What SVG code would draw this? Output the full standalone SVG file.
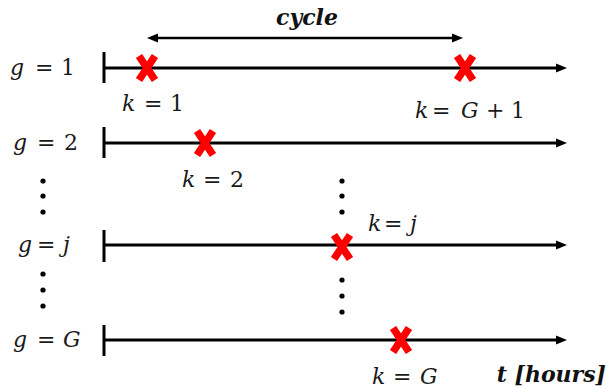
<svg xmlns="http://www.w3.org/2000/svg" width="609" height="388" viewBox="0 0 609 388">
  <style>
    .axis { stroke: #000; stroke-width: 3; fill: none; }
    .tick { stroke: #000; stroke-width: 3; }
    .span { stroke: #000; stroke-width: 2.5; fill: none; }
    .cross { stroke: #ff0000; stroke-width: 7.5; fill: none; }
    .lbl { font-family: "DejaVu Serif", "Liberation Serif", serif; font-size: 22px; fill: #1a1a1a; }
    .v { font-style: italic; }
    .bold { font-family: "DejaVu Serif", "Liberation Serif", serif; font-size: 22px; font-weight: bold; font-style: italic; fill: #111; }
    .dot { fill: #000; }
  </style>
  <defs>
    <marker id="ah" markerUnits="userSpaceOnUse" markerWidth="12" markerHeight="12" viewBox="0 -6 12 12" refX="3" refY="0" orient="auto-start-reverse">
      <path d="M0,-4.5 L11,0 L0,4.5 z" fill="#000"/>
    </marker>
    <path id="x" class="cross" d="M-8,-12 L8,12 M8,-12 L-8,12"/>
  </defs>

  <rect width="609" height="388" fill="#fff"/>

  <g id="connectors">
    <line class="axis" x1="104" y1="68" x2="559" y2="68" marker-end="url(#ah)"/>
    <line class="axis" x1="104" y1="143" x2="559" y2="143" marker-end="url(#ah)"/>
    <line class="axis" x1="104" y1="245" x2="559" y2="245" marker-end="url(#ah)"/>
    <line class="axis" x1="104" y1="340" x2="559" y2="340" marker-end="url(#ah)"/>
    <line class="span" x1="155" y1="38" x2="455" y2="38" marker-start="url(#ah)" marker-end="url(#ah)"/>
  </g>

  <g id="cycle-label">
    <text class="bold" x="307" y="25" text-anchor="middle">cycle</text>
  </g>

  <g id="row-g1">
    <line class="tick" x1="104" y1="52" x2="104" y2="83"/>
    <text class="lbl" y="75"><tspan class="v" x="10">g</tspan><tspan x="35">=</tspan><tspan x="61">1</tspan></text>
    <use href="#x" x="147" y="68"/>
    <use href="#x" x="465" y="68"/>
    <text class="lbl" y="111"><tspan class="v" x="122">k</tspan><tspan x="144">=</tspan><tspan x="170">1</tspan></text>
    <text class="lbl" y="118"><tspan class="v" x="415">k</tspan><tspan x="432">=</tspan><tspan class="v" x="461">G</tspan><tspan x="486">+</tspan><tspan x="511">1</tspan></text>
  </g>

  <g id="row-g2">
    <line class="tick" x1="104" y1="127" x2="104" y2="158"/>
    <text class="lbl" y="150"><tspan class="v" x="13">g</tspan><tspan x="37">=</tspan><tspan x="64">2</tspan></text>
    <use href="#x" x="205" y="143"/>
    <text class="lbl" y="187"><tspan class="v" x="182">k</tspan><tspan x="203">=</tspan><tspan x="230">2</tspan></text>
  </g>

  <g id="dots-left-upper">
    <circle class="dot" cx="43" cy="181" r="2.6"/>
    <circle class="dot" cx="43" cy="196" r="2.6"/>
    <circle class="dot" cx="43" cy="212" r="2.6"/>
  </g>
  <g id="dots-mid-upper">
    <circle class="dot" cx="342" cy="181" r="2.6"/>
    <circle class="dot" cx="342" cy="196" r="2.6"/>
    <circle class="dot" cx="342" cy="212" r="2.6"/>
  </g>

  <g id="row-gj">
    <line class="tick" x1="104" y1="230" x2="104" y2="262"/>
    <text class="lbl" y="252"><tspan class="v" x="18">g</tspan><tspan x="37">=</tspan><tspan class="v" x="63">j</tspan></text>
    <use href="#x" x="342" y="247"/>
    <text class="lbl" y="231"><tspan class="v" x="368">k</tspan><tspan x="384">=</tspan><tspan class="v" x="410">j</tspan></text>
  </g>

  <g id="dots-left-lower">
    <circle class="dot" cx="43" cy="274" r="2.6"/>
    <circle class="dot" cx="43" cy="290" r="2.6"/>
    <circle class="dot" cx="43" cy="306" r="2.6"/>
  </g>
  <g id="dots-mid-lower">
    <circle class="dot" cx="342" cy="280" r="2.6"/>
    <circle class="dot" cx="342" cy="296" r="2.6"/>
    <circle class="dot" cx="342" cy="312" r="2.6"/>
  </g>

  <g id="row-gG">
    <line class="tick" x1="104" y1="325" x2="104" y2="356"/>
    <text class="lbl" y="347"><tspan class="v" x="13">g</tspan><tspan x="37">=</tspan><tspan class="v" x="63">G</tspan></text>
    <use href="#x" x="401" y="340"/>
    <text class="lbl" y="384"><tspan class="v" x="372">k</tspan><tspan x="393">=</tspan><tspan class="v" x="420">G</tspan></text>
  </g>

  <g id="time-label">
    <text class="bold" x="606" y="382" text-anchor="end">t [hours]</text>
  </g>
</svg>
